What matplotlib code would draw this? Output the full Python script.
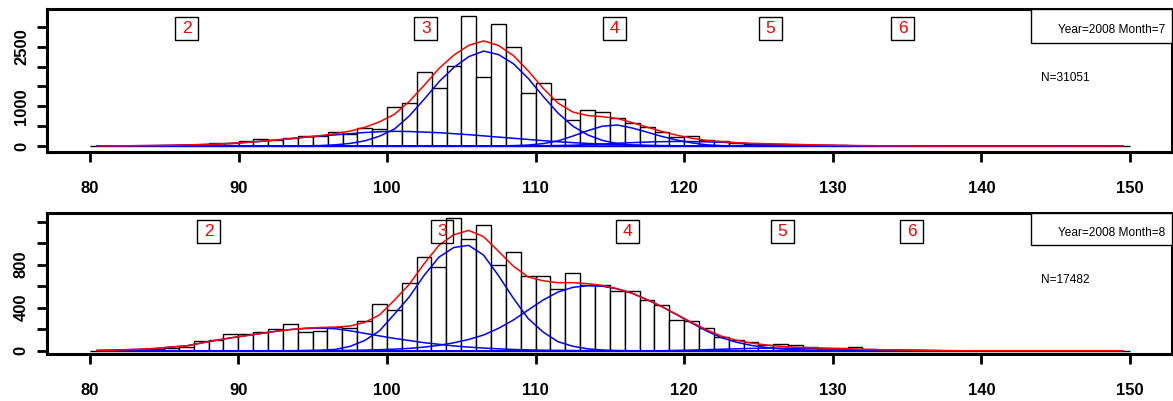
import numpy as np
import matplotlib
matplotlib.use("Agg")
import matplotlib.pyplot as plt
from matplotlib.patches import Rectangle

plt.rcParams['font.family'] = ['Liberation Sans', 'DejaVu Sans']

# ---------------- data ----------------
bin_edges_left = list(range(80, 150))          # 1-cm bins 80..149
midpoints_start = 80.5

# Month 7 histogram counts (bins 80..149)
counts_m7 = [0, 2, 3, 5, 5, 10, 20, 35, 67, 84,
             134, 168, 160, 210, 252, 252, 361, 302, 445, 420,
             973, 1091, 1854, 1451, 2022, 3280, 1745, 3070, 2500, 1335,
             1577, 1174, 654, 895, 850, 705, 580, 487, 361, 225,
             245, 145, 130, 84, 55, 50, 60, 30, 22, 20,
             15, 12, 0, 0, 0, 0, 0, 0, 0, 0,
             0, 0, 0, 0, 0, 0, 0, 0, 0, 0]

# Month 8 histogram counts (bins 80..149)
counts_m8 = [0, 3, 5, 6, 12, 22, 37, 87, 99, 155,
             155, 174, 202, 245, 170, 188, 223, 215, 276, 437,
             378, 634, 868, 781, 1231, 1036, 1169, 797, 915, 692,
             692, 573, 722, 615, 615, 558, 558, 471, 424, 288,
             276, 215, 127, 99, 80, 55, 62, 50, 37, 28,
             25, 34, 15, 8, 8, 8, 0, 0, 0, 0,
             0, 0, 0, 0, 0, 0, 0, 0, 0, 0]

# fitted components (values at bin midpoints), given as (first midpoint, values)
m7_comp_a = (80.5, [3, 4, 6, 9, 13, 19, 27, 36, 48, 65,
                    90, 118, 150, 185, 220, 250, 280, 310, 340, 360,
                    370, 365, 350, 335, 310, 285, 255, 225, 195, 165,
                    135, 108, 85, 65, 48, 35, 25, 17, 11, 7, 4, 2, 1])
m7_comp_b = (94.5, [5, 12, 30, 65, 130, 250, 430, 760, 1180, 1620,
                    1980, 2250, 2390, 2300, 2070, 1700, 1250, 830, 500, 280,
                    140, 60, 25, 10, 4])
m7_comp_c = (107.5, [4, 10, 25, 60, 130, 250, 386, 500, 528, 453,
                     348, 240, 150, 80, 30, 10, 3, 1])
m7_comp_d = (110.5, [8, 12, 20, 35, 50, 70, 85, 100, 110, 115,
                     112, 105, 95, 75, 55, 40, 30, 22, 15, 10, 6, 3, 2])
m7_comp_e = (121.5, [2, 3, 8, 12, 18, 20, 18, 16, 13, 10, 8, 6, 4, 2.5, 1.5, 1])

m8_comp_a = (80.5, [3, 6, 10, 14, 22, 35, 45, 72, 97, 120,
                    140, 160, 180, 197, 207, 210, 205, 186, 162, 138,
                    115, 95, 75, 60, 45, 34, 25, 18, 12, 8, 5, 3, 2, 1])
m8_comp_b = (94.5, [2, 5, 12, 40, 95, 185, 340, 500, 700, 870,
                    960, 980, 890, 700, 490, 300, 175, 85, 42, 18, 7, 2])
m8_comp_c = (94.5, [1, 1, 2, 4, 6, 10, 15, 22, 34, 50,
                    74, 105, 146, 208, 285, 378, 471, 545, 589, 605,
                    600, 575, 535, 475, 410, 335, 258, 185, 122, 80,
                    50, 30, 17, 9, 5, 2, 1])
m8_comp_d = (119.5, [3, 6, 10, 14, 18, 22, 24, 24, 23, 21,
                     18, 14, 11, 8, 6, 4, 3, 2, 1])
m8_comp_e = (127.5, [1, 2, 4, 5, 5, 4, 3, 3, 2, 1])

age_labels = ['2', '3', '4', '5', '6']
age_x_m7 = [86.5, 102.6, 115.3, 125.8, 134.7]
age_x_m8 = [88.0, 103.7, 116.2, 126.6, 135.3]

legend_m7 = 'Year=2008 Month=7'
legend_m8 = 'Year=2008 Month=8'
n_m7 = 'N=31051'
n_m8 = 'N=17482'

xticks = [80, 90, 100, 110, 120, 130, 140, 150]
yticks_m7 = [0, 500, 1000, 1500, 2000, 2500, 3000]
ylabels_m7 = ['0', '', '1000', '', '', '2500', '']
yticks_m8 = [0, 200, 400, 600, 800, 1000, 1200]
ylabels_m8 = ['0', '', '400', '', '800', '', '']

# ---------------- drawing ----------------
mids = np.array(bin_edges_left) + 0.5


def expand(comp):
    start, vals = comp
    out = np.zeros(len(mids))
    i0 = int(round(start - midpoints_start))
    out[i0:i0 + len(vals)] = vals
    return out


fig = plt.figure(figsize=(11.73, 4.01), dpi=100)
W, H = 1173, 401


def panel(rect_px, counts, comps, ylim, yticks, ylabels, labx, lab_yc,
          leg_text, leg_y0, leg_ty, n_text, n_y):
    x0, y0, x1, y1 = rect_px
    ax = fig.add_axes([x0 / W, 1 - y1 / H, (x1 - x0) / W, (y1 - y0) / H])
    ax.bar(bin_edges_left, counts, width=1.0, align='edge', facecolor='white',
           edgecolor='black', linewidth=1.0, zorder=1)
    comp_arrays = [expand(c) for c in comps]
    for arr in comp_arrays:
        ax.plot(mids, arr, color='#0000FF', lw=1.1, zorder=2)
    total = np.sum(comp_arrays, axis=0)
    ax.plot(mids, total, color='#FF0000', lw=1.1, zorder=3)

    ax.set_xlim(77.106, 152.81)
    ax.set_ylim(*ylim)
    ax.set_xticks(xticks)
    ax.set_xticklabels([str(t) for t in xticks], fontweight='bold', fontsize=12)
    ax.set_yticks(yticks)
    ax.set_yticklabels(ylabels, fontweight='bold', fontsize=12, rotation=90,
                       va='center')
    ax.tick_params(axis='x', length=7, width=2, pad=14)
    ax.tick_params(axis='y', length=7, width=2, pad=6)
    for s in ax.spines.values():
        s.set_linewidth(2.2)

    # age boxes
    box_w = 22.7 / 14.857
    box_h = 22.7 / (y1 - y0)
    tr = ax.get_xaxis_transform()
    for lab, xc in zip(age_labels, labx):
        ax.add_patch(Rectangle((xc - box_w / 2, lab_yc - box_h / 2), box_w, box_h,
                               transform=tr, facecolor='none', edgecolor='black',
                               lw=1.0, zorder=5, clip_on=False))
        ax.text(xc, lab_yc, lab, transform=tr, color='#FF0000', fontsize=12.5,
                ha='center', va='center', zorder=6)

    # legend box
    lx0 = (1031 - x0) / (x1 - x0)
    ax.add_patch(Rectangle((lx0, leg_y0), 1 - lx0, 1 - leg_y0,
                           transform=ax.transAxes, facecolor='white',
                           edgecolor='black', lw=1.0, zorder=5))
    ax.text((1165 - x0) / (x1 - x0), leg_ty, leg_text, transform=ax.transAxes,
            fontsize=8.6, ha='right', va='center', zorder=6)
    ax.text((1040.7 - x0) / (x1 - x0), n_y, n_text, transform=ax.transAxes,
            fontsize=8.6, ha='left', va='center', zorder=6)
    return ax


panel((47, 9, 1171.7, 151.7), counts_m7,
      [m7_comp_a, m7_comp_b, m7_comp_c, m7_comp_d, m7_comp_e],
      (-143, 3448), yticks_m7, ylabels_m7, age_x_m7, 0.862,
      legend_m7, 0.760, 0.853, n_m7, 0.519)

panel((46.7, 213.3, 1171.7, 354.3), counts_m8,
      [m8_comp_a, m8_comp_b, m8_comp_c, m8_comp_d, m8_comp_e],
      (-33, 1278), yticks_m8, ylabels_m8, age_x_m8, 0.872,
      legend_m8, 0.775, 0.858, n_m8, 0.527)

fig.savefig('out.png', dpi=100)
